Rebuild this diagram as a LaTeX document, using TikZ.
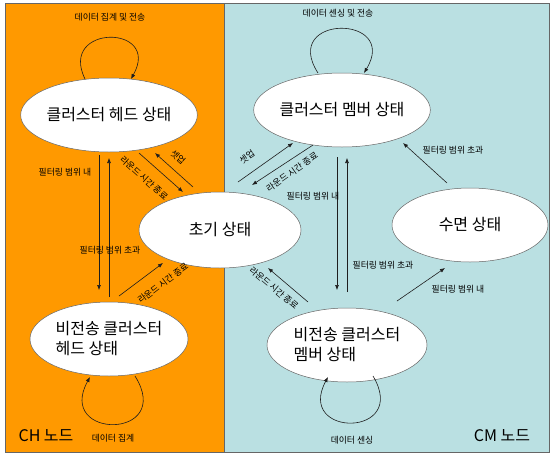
\documentclass[tikz,border=0pt]{standalone}
\usepackage{fontspec}
\setmainfont{Noto Sans CJK KR}
\usetikzlibrary{arrows.meta,shapes.geometric}
\definecolor{chbg}{RGB}{255,153,0}
\definecolor{cmbg}{RGB}{186,224,226}
\definecolor{edge}{RGB}{30,30,30}
\begin{document}
\begin{tikzpicture}[x=1pt,y=-1pt,
  stbox/.style={ellipse, draw=gray!80!black, line width=0.5pt, fill=white,
    minimum width=158pt, minimum height=74pt, inner sep=0pt,
    font=\fontsize{16}{20}\selectfont, align=left},
  arr/.style={draw=edge, line width=0.6pt, -{Latex[length=5pt,width=4pt]}},
  lbl/.style={font=\fontsize{8.8}{10}\selectfont, inner sep=0pt, text=black},
  big/.style={font=\fontsize{16}{18}\selectfont, inner sep=0pt}]
\useasboundingbox (0,0) rectangle (550,456);
\fill[chbg] (5,3) rectangle (224,452);
\fill[cmbg] (224,3) rectangle (549,452);
\draw[gray!80!black, line width=0.8pt] (5,3) rectangle (549,452);
\draw[gray!80!black, line width=0.5pt] (224,3) -- (224,452);

% states
\node[stbox] (chh) at (109,115) {클러스터 헤드 상태};
\node[stbox, minimum width=160pt] (cmh) at (342,110) {클러스터 멤버 상태};
\node[stbox, minimum width=162pt, minimum height=76pt] (init) at (220,230) {초기 상태};
\node[stbox, minimum width=156pt] (sleep) at (470,225) {수면 상태};
\node[stbox] (ntch) at (109,339) {비전송 클러스터\\헤드 상태};
\node[stbox, minimum width=160pt] (ntcm) at (347,345) {비전송 클러스터\\멤버 상태};

% self loops
\draw[arr] ([shift={(-24,-36)}]chh.center) .. controls (58,24) and (162,24) .. ([shift={(22,-36)}]chh.center);
\draw[arr] ([shift={(-24,-37)}]cmh.center) .. controls (280,14) and (400,14) .. ([shift={(22,-37)}]cmh.center);
\draw[arr] ([shift={(26,37)}]ntch.center) .. controls (175,440) and (55,440) .. ([shift={(-19,38)}]ntch.center);
\draw[arr] ([shift={(26,31)}]ntcm.center) .. controls (410,438) and (295,438) .. ([shift={(-19,32)}]ntcm.center);

% CH side
\draw[arr] ([shift={(30,38)}]chh.center) -- ([shift={(-37,-38)}]init.center);
\draw[arr] ([shift={(-27,-43)}]init.center) -- ([shift={(46,38)}]chh.center);
\draw[arr] ([shift={(-10,40)}]chh.center) -- ([shift={(-10,-49)}]ntch.center);
\draw[arr] ([shift={(0,-42)}]ntch.center) -- ([shift={(0,43)}]chh.center);
\draw[arr] ([shift={(10,-43)}]ntch.center) -- ([shift={(-57,33)}]init.center);

% CM side
\draw[arr] ([shift={(18,-48)}]init.center) -- ([shift={(-49,33)}]cmh.center);
\draw[arr] ([shift={(-29,35)}]cmh.center) -- ([shift={(32,-45)}]init.center);
\draw[arr] ([shift={(-39,-43)}]ntcm.center) -- ([shift={(48,38)}]init.center);
\draw[arr] ([shift={(-5,47)}]cmh.center) -- ([shift={(-10,-55)}]ntcm.center);
\draw[arr] ([shift={(0,-53)}]ntcm.center) -- ([shift={(5,48)}]cmh.center);
\draw[arr] ([shift={(-23,-42)}]sleep.center) -- ([shift={(61,33)}]cmh.center);
\draw[arr] ([shift={(50,-44)}]ntcm.center) -- ([shift={(-25,43)}]sleep.center);

% labels
\node[lbl] (t1) at (110,17) {데이터 집계 및 전송};
\node[lbl] (t2) at (338,13) {데이터 센싱 및 전송};
\node[lbl] (t3) at (113,438) {데이터 집계};
\node[lbl] (t4) at (352,440) {데이터 센싱};
\node[big] (chn) at (46,436) {CH 노드};
\node[big] (cmn) at (502,436) {CM 노드};

\node[lbl, rotate=-42] (l1) at (178,157) {셋업};
\node[lbl, rotate=-42] (l2) at (144,178) {라운드 시간 종료};
\node[lbl] (l3) at (65,172) {필터링 범위 내};
\node[lbl] (l4) at (110,250) {필터링 범위 초과};
\node[lbl, rotate=37] (l5) at (163,283) {라운드 시간 종료};

\node[lbl, rotate=35] (l6) at (247,157) {셋업};
\node[lbl, rotate=35] (l7) at (292,172) {라운드 시간 종료};
\node[lbl, rotate=-40] (l8) at (274,288) {라운드 시간 종료};
\node[lbl] (l9) at (313,196) {필터링 범위 내};
\node[lbl] (l10) at (383,265) {필터링 범위 초과};
\node[lbl] (l11) at (453,150) {필터링 범위 초과};
\node[lbl] (l12) at (458,289) {필터링 범위 내};
\end{tikzpicture}
\end{document}
